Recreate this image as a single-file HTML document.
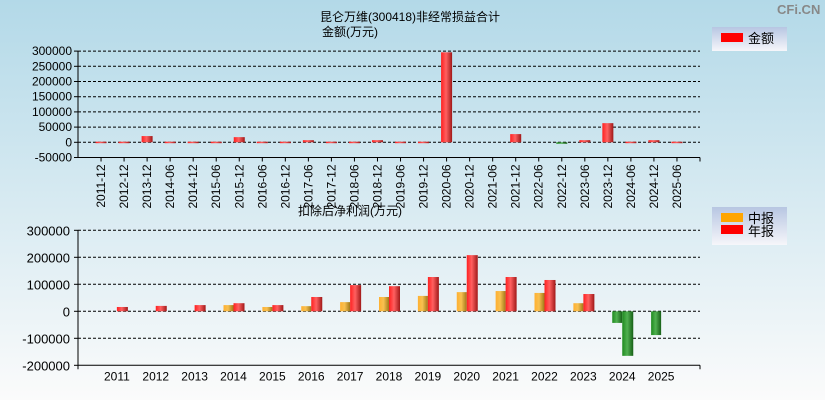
<!DOCTYPE html>
<html><head><meta charset="utf-8"><style>
html,body{margin:0;padding:0;width:825px;height:400px;overflow:hidden}
svg{display:block;font-family:"Liberation Sans","Noto Sans CJK SC",sans-serif}
</style></head><body>
<svg id="c" width="825" height="400">
<defs>
<linearGradient id="bg" x1="0" y1="0" x2="0" y2="1"><stop offset="0" stop-color="#b3d9e8"/><stop offset="1" stop-color="#fbfbfb"/></linearGradient>
<linearGradient id="lg" x1="0" y1="0" x2="0" y2="1"><stop offset="0" stop-color="#b7c6e2"/><stop offset="1" stop-color="#f6f6fa"/></linearGradient>
<linearGradient id="gr" x1="0" x2="1"><stop offset="0" stop-color="#ff2020"/><stop offset="0.45" stop-color="#ff6060"/><stop offset="1" stop-color="#a01818"/></linearGradient>
<linearGradient id="go" x1="0" x2="1"><stop offset="0" stop-color="#ffb030"/><stop offset="0.45" stop-color="#f8c050"/><stop offset="1" stop-color="#a07818"/></linearGradient>
<linearGradient id="gg" x1="0" x2="1"><stop offset="0" stop-color="#1e8a1e"/><stop offset="0.45" stop-color="#50b050"/><stop offset="1" stop-color="#176017"/></linearGradient>
</defs>
<rect width="825" height="400" fill="url(#bg)"/>
<text x="777" y="14" font-size="13" font-weight="bold" fill="#888">CFi.CN</text>
<text x="410" y="21" font-size="12" text-anchor="middle">昆仑万维(300418)非经常损益合计</text>
<text x="350" y="36" font-size="12" text-anchor="middle">金额(万元)</text>
<text x="350" y="215" font-size="12" text-anchor="middle">扣除后净利润(万元)</text>
<g>
<rect x="712" y="27" width="75" height="24" fill="url(#lg)"/>
<rect x="721" y="33" width="22" height="9" fill="#f00"/>
<text x="748" y="43" font-size="13">金额</text>
</g>
<g>
<rect x="712" y="207" width="75" height="38" fill="url(#lg)"/>
<rect x="721" y="213" width="22" height="9" fill="#ffa500"/>
<text x="748" y="223" font-size="13">中报</text>
<rect x="721" y="225" width="22" height="9" fill="#f00"/>
<text x="748" y="236" font-size="13">年报</text>
</g>
<g id="top"></g><g id="bot"></g>
</svg>
<script>
const topCats=["2011-12","2012-12","2013-12","2014-06","2014-12","2015-06","2015-12","2016-06","2016-12","2017-06","2017-12","2018-06","2018-12","2019-06","2019-12","2020-06","2020-12","2021-06","2021-12","2022-06","2022-12","2023-06","2023-12","2024-06","2024-12","2025-06"];
const topVals=[2000,2000,20500,2000,2000,2000,17000,2000,2000,7000,2000,2000,7000,2000,2000,296000,0,0,27000,0,-2000,7000,63000,2000,7000,2000];
const topTicks=[300000,250000,200000,150000,100000,50000,0,-50000];
const years=["2011","2012","2013","2014","2015","2016","2017","2018","2019","2020","2021","2022","2023","2024","2025"];
const halfVals=[null,null,null,23000,16000,19000,34000,53000,57000,71000,75000,68000,30000,-43000,-88000];
const annualVals=[16000,20000,23000,30000,23000,53000,97000,93000,127000,208000,127000,116000,64000,-165000,null];
const botTicks=[300000,200000,100000,0,-100000,-200000];
const NS="http://www.w3.org/2000/svg";
function mk(p,t,a){const e=document.createElementNS(NS,t);for(const k in a)e.setAttribute(k,a[k]);p.appendChild(e);return e;}
const X0=78,X1=700;
const tg=document.getElementById('top');
const ty=v=>142.3-(v/50000)*15.2;
const tx=i=>X0+(X1-X0)/27*(i+1);
topTicks.forEach(t=>{
 const y=ty(t);
 if(t>-50000){const l=mk(tg,'line',{x1:X0,x2:X1,y1:y,y2:y,stroke:'#000','stroke-dasharray':'3,2'});
 
 }
 mk(tg,'line',{x1:X0-4,x2:X0,y1:y,y2:y,stroke:'#000'});
 const tt=mk(tg,'text',{x:X0-6,y:y+4,'font-size':12,'text-anchor':'end'});tt.textContent=t;
 
 
});
mk(tg,'line',{x1:X0,x2:X0,y1:ty(300000),y2:ty(-50000),stroke:'#000'});
mk(tg,'line',{x1:X0,x2:X1,y1:ty(-50000),y2:ty(-50000),stroke:'#000'});
mk(tg,'line',{x1:X1,x2:X1,y1:ty(-50000),y2:ty(-50000)+4,stroke:'#000'});
topCats.forEach((c,i)=>{
 const x=tx(i);
 mk(tg,'line',{x1:x,x2:x,y1:ty(-50000),y2:ty(-50000)+4,stroke:'#000'});
 const t=mk(tg,'text',{x:0,y:0,'font-size':12,'text-anchor':'end',transform:`translate(${x+4},${ty(-50000)+7}) rotate(-90)`});t.textContent=c;
 
 
 const v=topVals[i];if(!v)return;
 const y0=ty(0),y1=ty(v);
 const r=mk(tg,'rect',{x:x-5.5,y:Math.min(y0,y1),width:11,height:Math.max(1.5,Math.abs(y1-y0)),fill:v<0?'url(#gg)':'url(#gr)'});
 
 
});
const bg=document.getElementById('bot');
const by=v=>311.3-(v/100000)*27;
const bx=i=>X0+(X1-X0)/16*(i+1);
botTicks.forEach(t=>{
 const y=by(t);
 if(t>-200000){const l=mk(bg,'line',{x1:X0,x2:X1,y1:y,y2:y,stroke:'#000','stroke-dasharray':'3,2'});
 
 }
 mk(bg,'line',{x1:X0-4,x2:X0,y1:y,y2:y,stroke:'#000'});
 const tt=mk(bg,'text',{x:X0-8,y:y+5,'font-size':13,'text-anchor':'end'});tt.textContent=t;
 
 
});
mk(bg,'line',{x1:X0,x2:X0,y1:by(300000),y2:by(-200000),stroke:'#000'});
mk(bg,'line',{x1:X0,x2:X1,y1:by(-200000),y2:by(-200000),stroke:'#000'});
mk(bg,'line',{x1:X0,x2:X0,y1:by(-200000),y2:by(-200000)+4,stroke:'#000'});
mk(bg,'line',{x1:X1,x2:X1,y1:by(-200000),y2:by(-200000)+4,stroke:'#000'});
years.forEach((yr,i)=>{
 const x=bx(i);
 const t=mk(bg,'text',{x:x,y:by(-200000)+15,'font-size':12,'text-anchor':'middle'});t.textContent=yr;
 
 
 const h=halfVals[i],a=annualVals[i];
 if(h!==null){const y0=by(0),y1=by(h);
  const r=mk(bg,'rect',{x:x-10,y:Math.min(y0,y1),width:10,height:Math.abs(y1-y0),fill:h<0?'url(#gg)':'url(#go)'});
  
  }
 if(a!==null){const y0=by(0),y1=by(a);
  const r=mk(bg,'rect',{x:x,y:Math.min(y0,y1),width:11,height:Math.abs(y1-y0),fill:a<0?'url(#gg)':'url(#gr)'});
  
  }
});
</script>
</body></html>
